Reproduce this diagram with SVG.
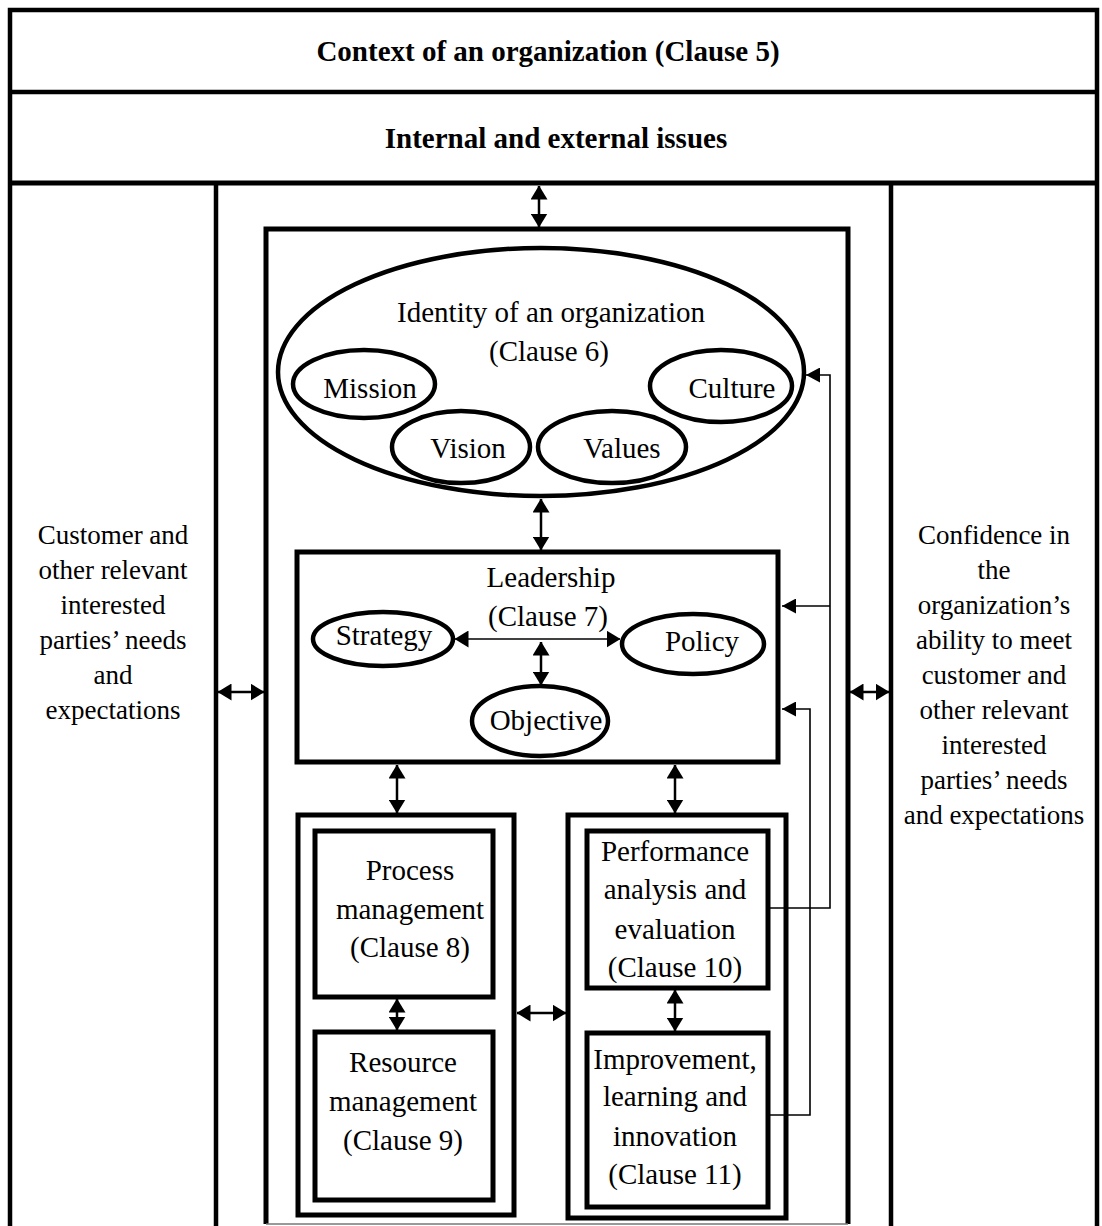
<svg xmlns="http://www.w3.org/2000/svg" width="1102" height="1226" viewBox="0 0 1102 1226">
<style>
  .frame{fill:none;stroke:#000;stroke-width:4.5}
  .box{fill:none;stroke:#000;stroke-width:5}
  .ell{fill:none;stroke:#000;stroke-width:4.5}
  .t{font-family:"Liberation Serif","Times New Roman",serif;font-size:29px;fill:#000;text-anchor:middle}
  .s{font-family:"Liberation Serif","Times New Roman",serif;font-size:27px;fill:#000;text-anchor:middle}
  .b{font-family:"Liberation Serif","Times New Roman",serif;font-size:29px;font-weight:bold;fill:#000;text-anchor:middle}
  .c{fill:none;stroke:#000;stroke-width:2.5}
  .f{fill:none;stroke:#000;stroke-width:1.6}
</style>
<defs>
  <marker id="ah" markerUnits="userSpaceOnUse" markerWidth="14" markerHeight="17" viewBox="0 0 14 17" refX="13.5" refY="8.5" orient="auto-start-reverse">
    <path d="M0,0 L14,8.5 L0,17 Z" fill="#000"/>
  </marker>
  <marker id="ahs" markerUnits="userSpaceOnUse" markerWidth="14" markerHeight="15" viewBox="0 0 14 15" refX="14" refY="7.5" orient="auto">
    <path d="M0,0 L14,7.5 L0,15 Z" fill="#000"/>
  </marker>
</defs>

<g id="context">
  <path class="frame" d="M10,1226 V10 H1097 V1226"/>
  <line class="frame" x1="10" y1="92" x2="1097" y2="92"/>
  <text class="b" x="548" y="61">Context of an organization (Clause 5)</text>
</g>
<g id="issues">
  <line class="box" x1="10" y1="183" x2="1097" y2="183" stroke-width="5.5"/>
  <text class="b" x="556" y="148">Internal and external issues</text>
</g>
<g id="left-column">
  <line class="frame" x1="216" y1="183" x2="216" y2="1226"/>
  <text class="s" x="113" y="544">Customer and</text>
  <text class="s" x="113" y="579">other relevant</text>
  <text class="s" x="113" y="614">interested</text>
  <text class="s" x="113" y="649">parties’ needs</text>
  <text class="s" x="113" y="684">and</text>
  <text class="s" x="113" y="719">expectations</text>
</g>
<g id="right-column">
  <line class="frame" x1="891" y1="183" x2="891" y2="1226"/>
  <text class="s" x="994" y="544">Confidence in</text>
  <text class="s" x="994" y="579">the</text>
  <text class="s" x="994" y="614">organization’s</text>
  <text class="s" x="994" y="649">ability to meet</text>
  <text class="s" x="994" y="684">customer and</text>
  <text class="s" x="994" y="719">other relevant</text>
  <text class="s" x="994" y="754">interested</text>
  <text class="s" x="994" y="789">parties’ needs</text>
  <text class="s" x="994" y="824">and expectations</text>
</g>
<g id="management-system">
  <path class="box" d="M266,1224 V229 H848 V1224"/>
  <line x1="266" y1="1224" x2="848" y2="1224" stroke="#777" stroke-width="1.5"/>
</g>
<g id="identity">
  <ellipse class="ell" cx="541" cy="372" rx="263" ry="124"/>
  <text class="t" x="551" y="322">Identity of an organization</text>
  <text class="t" x="549" y="361">(Clause 6)</text>
</g>
<g id="mission">
  <ellipse class="ell" cx="364" cy="384" rx="71" ry="34"/>
  <text class="t" x="370" y="398">Mission</text>
</g>
<g id="culture">
  <ellipse class="ell" cx="721" cy="386" rx="71" ry="36"/>
  <text class="t" x="732" y="398">Culture</text>
</g>
<g id="vision">
  <ellipse class="ell" cx="461" cy="447" rx="69" ry="36"/>
  <text class="t" x="468" y="458">Vision</text>
</g>
<g id="values">
  <ellipse class="ell" cx="612" cy="447" rx="74" ry="36"/>
  <text class="t" x="622" y="458">Values</text>
</g>
<g id="leadership">
  <rect class="box" x="297" y="552" width="481" height="210"/>
  <text class="t" x="551" y="587">Leadership</text>
  <text class="t" x="548" y="626">(Clause 7)</text>
</g>
<g id="strategy">
  <ellipse class="ell" cx="383" cy="639" rx="70" ry="27"/>
  <text class="t" x="384" y="645">Strategy</text>
</g>
<g id="policy">
  <ellipse class="ell" cx="693" cy="644" rx="71" ry="30"/>
  <text class="t" x="702" y="651">Policy</text>
</g>
<g id="objective">
  <ellipse class="ell" cx="540" cy="721" rx="68" ry="35"/>
  <text class="t" x="546" y="730">Objective</text>
</g>
<g id="operations">
  <rect class="box" x="298" y="815" width="216" height="400"/>
</g>
<g id="process">
  <rect class="box" x="315" y="831" width="178" height="166"/>
  <text class="t" x="410" y="880">Process</text>
  <text class="t" x="410" y="919">management</text>
  <text class="t" x="410" y="957">(Clause 8)</text>
</g>
<g id="resource">
  <rect class="box" x="315" y="1032" width="178" height="168"/>
  <text class="t" x="403" y="1072">Resource</text>
  <text class="t" x="403" y="1111">management</text>
  <text class="t" x="403" y="1150">(Clause 9)</text>
</g>
<g id="evaluation-improvement">
  <rect class="box" x="568" y="815" width="218" height="403"/>
</g>
<g id="performance">
  <rect class="box" x="587" y="831" width="181" height="157"/>
  <text class="t" x="675" y="861">Performance</text>
  <text class="t" x="675" y="899">analysis and</text>
  <text class="t" x="675" y="939">evaluation</text>
  <text class="t" x="675" y="977">(Clause 10)</text>
</g>
<g id="improvement">
  <rect class="box" x="587" y="1033" width="181" height="174"/>
  <text class="t" x="675" y="1069">Improvement,</text>
  <text class="t" x="675" y="1106">learning and</text>
  <text class="t" x="675" y="1146">innovation</text>
  <text class="t" x="675" y="1184">(Clause 11)</text>
</g>

<g id="connectors">
  <line class="c" x1="539" y1="186" x2="539" y2="227" marker-start="url(#ah)" marker-end="url(#ah)"/>
  <line class="c" x1="541" y1="499" x2="541" y2="550" marker-start="url(#ah)" marker-end="url(#ah)"/>
  <line class="f" x1="455" y1="639" x2="620" y2="639" marker-start="url(#ah)" marker-end="url(#ah)"/>
  <line class="c" x1="541" y1="642" x2="541" y2="685" marker-start="url(#ah)" marker-end="url(#ah)"/>
  <line class="c" x1="397" y1="765" x2="397" y2="813" marker-start="url(#ah)" marker-end="url(#ah)"/>
  <line class="c" x1="675" y1="765" x2="675" y2="813" marker-start="url(#ah)" marker-end="url(#ah)"/>
  <line class="c" x1="397" y1="999" x2="397" y2="1030" marker-start="url(#ah)" marker-end="url(#ah)"/>
  <line class="c" x1="675" y1="990" x2="675" y2="1031" marker-start="url(#ah)" marker-end="url(#ah)"/>
  <line class="c" x1="517" y1="1013" x2="566" y2="1013" marker-start="url(#ah)" marker-end="url(#ah)"/>
  <line class="c" x1="218" y1="692" x2="264" y2="692" marker-start="url(#ah)" marker-end="url(#ah)"/>
  <line class="c" x1="850" y1="692" x2="889" y2="692" marker-start="url(#ah)" marker-end="url(#ah)"/>
  <path class="f" d="M770,908 H830 V375 H806" marker-end="url(#ahs)"/>
  <path class="f" d="M830,606 H782" marker-end="url(#ahs)"/>
  <path class="f" d="M770,1115 H810 V709 H782" marker-end="url(#ahs)"/>
</g>
</svg>
